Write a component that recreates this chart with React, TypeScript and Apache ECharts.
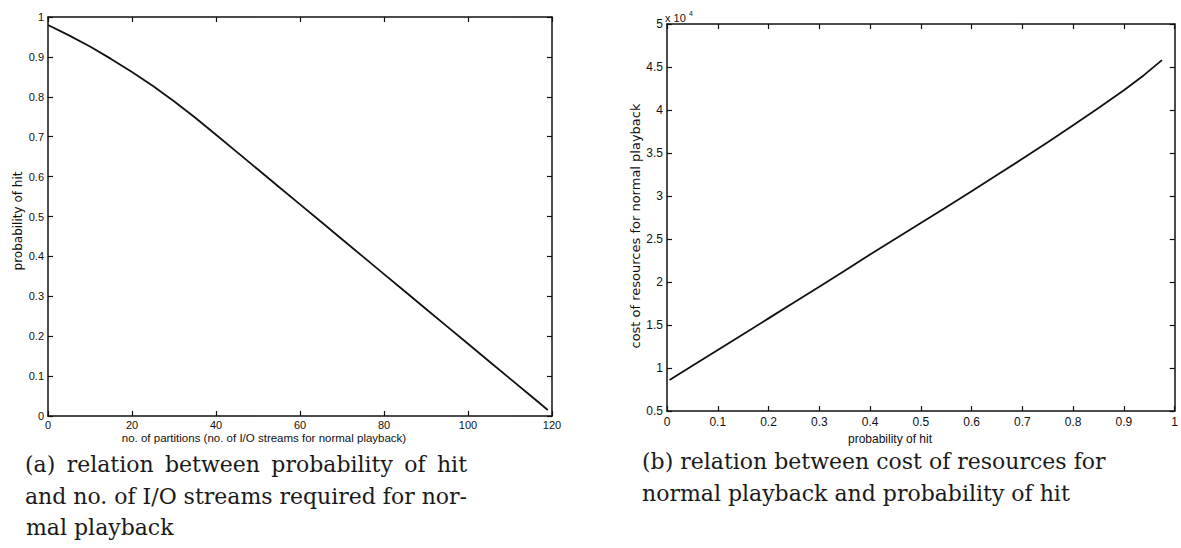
import React, { useEffect, useRef } from "react";
import * as echarts from "echarts";

// (a) probability of hit vs. number of partitions
const partitions = [0, 5, 10, 15, 20, 25, 30, 35, 40, 45, 50, 55, 60, 65, 70, 75, 80, 85, 90, 95, 100, 105, 110, 115, 119];
const hitProbability = [
  0.98, 0.954, 0.926, 0.895, 0.862, 0.827, 0.789, 0.748, 0.705, 0.6613, 0.6177, 0.574, 0.5303,
  0.4867, 0.443, 0.3993, 0.3557, 0.312, 0.2683, 0.2247, 0.181, 0.1373, 0.0937, 0.05, 0.015,
];

// (b) cost of resources for normal playback vs. probability of hit
const hitLevels = [0.005, 0.05, 0.1, 0.15, 0.2, 0.25, 0.3, 0.35, 0.4, 0.45, 0.5, 0.55, 0.6, 0.65, 0.7, 0.75, 0.8, 0.85, 0.9, 0.94, 0.975];
const resourceCost = [
  8600, 10260, 12100, 13930, 15770, 17610, 19460, 21320, 23200, 25020, 26850, 28690, 30550,
  32430, 34330, 36260, 38230, 40240, 42300, 44080, 45800,
];

// axis ranges
const partitionTicks = { min: 0, max: 120, interval: 20 };
const probabilityTicks = { min: 0, max: 1, interval: 0.1 };
const costTicks = { min: 5000, max: 50000, interval: 5000 };

const captionA = [
  ["(a)", "relation", "between", "probability", "of", "hit"],
  ["and", "no.", "of", "I/O", "streams", "required", "for", "nor-"],
  ["mal playback"],
];
const captionB = ["(b) relation between cost of resources for", "normal playback and probability of hit"];

const INK = "#111";
const SANS = "Liberation Sans, Arial, sans-serif";
const WIDE_SANS = "DejaVu Sans, sans-serif";
const SERIF = "DejaVu Serif, Liberation Serif, serif";
const CAPTION_FONT = `22px ${SERIF}`;

const fmt1 = (v: number) => String(+v.toFixed(1));

function axisPair(kind: "x" | "y", grid: number, range: any, fontSize: number, margin: number, formatter: (v: number) => string) {
  const common = {
    type: "value",
    gridIndex: grid,
    min: range.min,
    max: range.max,
    interval: range.interval,
    splitLine: { show: false },
    axisLine: { show: true, onZero: false, lineStyle: { color: INK, width: 1.5 } },
    axisTick: { show: true, inside: true, length: 5, lineStyle: { color: INK, width: 1.2 } },
  };
  const main = {
    ...common,
    position: kind === "x" ? "bottom" : "left",
    axisLabel: { show: true, color: INK, fontFamily: SANS, fontSize, margin, formatter },
  };
  const mirror = {
    ...common,
    position: kind === "x" ? "top" : "right",
    axisLabel: { show: false },
  };
  return [main, mirror];
}

// lay out words so that a line fills [left, right] (justified)
function justify(words: string[], left: number, right: number, measure: (s: string) => number) {
  const widths = words.map(measure);
  const total = widths.reduce((a, b) => a + b, 0);
  const gap = words.length > 1 ? (right - left - total) / (words.length - 1) : 0;
  const xs: number[] = [];
  let x = left;
  widths.forEach((w) => {
    xs.push(x);
    x += w + gap;
  });
  return xs;
}

export default function App() {
  const ref = useRef<HTMLDivElement>(null);

  useEffect(() => {
    if (!ref.current) return;
    const chart = echarts.init(ref.current, null, { renderer: "svg" });

    const ctx = document.createElement("canvas").getContext("2d")!;
    ctx.font = CAPTION_FONT;
    const measure = (s: string) => ctx.measureText(s).width;

    const lineY = [475, 507, 538];
    const captionTexts: any[] = [];
    captionA.forEach((words, li) => {
      const xs = li < 2 ? justify(words, 25, 467, measure) : [26];
      words.forEach((w, wi) =>
        captionTexts.push({
          type: "text",
          x: xs[wi],
          y: lineY[li],
          style: { text: w, fill: "#1a1a1a", font: CAPTION_FONT, textVerticalAlign: "bottom" },
        })
      );
    });
    captionB.forEach((line, li) =>
      captionTexts.push({
        type: "text",
        x: 642,
        y: [472, 504][li],
        style: { text: line, fill: "#1a1a1a", font: CAPTION_FONT, textVerticalAlign: "bottom" },
      })
    );

    const [xa, xaTop] = axisPair("x", 0, partitionTicks, 11, 3, (v) => String(v));
    const [ya, yaRight] = axisPair("y", 0, probabilityTicks, 11, 4, fmt1);
    const [xb, xbTop] = axisPair("x", 1, probabilityTicks, 12, 5, fmt1);
    const [yb, ybRight] = axisPair("y", 1, costTicks, 12, 4, (v) => fmt1(v / 10000));

    chart.setOption({
      animation: false,
      backgroundColor: "#fff",
      grid: [
        { left: 48, top: 17, width: 504, height: 399 },
        { left: 667, top: 24, width: 511, height: 387 },
      ],
      xAxis: [xa, xaTop, xb, xbTop],
      yAxis: [ya, yaRight, yb, ybRight],
      series: [
        {
          type: "line",
          xAxisIndex: 0,
          yAxisIndex: 0,
          data: partitions.map((p, i) => [p, hitProbability[i]]),
          showSymbol: false,
          lineStyle: { color: INK, width: 1.8, join: "round" },
        },
        {
          type: "line",
          xAxisIndex: 2,
          yAxisIndex: 2,
          data: hitLevels.map((p, i) => [p, resourceCost[i]]),
          showSymbol: false,
          lineStyle: { color: INK, width: 1.8, join: "round" },
        },
      ],
      graphic: [
        {
          type: "text",
          x: 264,
          y: 438,
          style: {
            text: "no. of partitions (no. of I/O streams for normal playback)",
            fill: INK,
            font: `11.5px ${SANS}`,
            textAlign: "center",
            textVerticalAlign: "middle",
          },
        },
        {
          type: "text",
          x: 18,
          y: 221,
          rotation: Math.PI / 2,
          style: {
            text: "probability of hit",
            fill: INK,
            font: `12px ${WIDE_SANS}`,
            textAlign: "center",
            textVerticalAlign: "middle",
          },
        },
        {
          type: "text",
          x: 890,
          y: 439,
          style: {
            text: "probability of hit",
            fill: INK,
            font: `12px ${SANS}`,
            textAlign: "center",
            textVerticalAlign: "middle",
          },
        },
        {
          type: "text",
          x: 635,
          y: 226,
          rotation: Math.PI / 2,
          style: {
            text: "cost of resources for normal playback",
            fill: INK,
            font: `13px ${WIDE_SANS}`,
            textAlign: "center",
            textVerticalAlign: "middle",
          },
        },
        {
          type: "text",
          x: 665,
          y: 18,
          style: { text: "x 10", fill: INK, font: `11px ${SANS}`, textVerticalAlign: "middle" },
        },
        {
          type: "text",
          x: 689,
          y: 13,
          style: { text: "4", fill: INK, font: `7px ${SANS}`, textVerticalAlign: "middle" },
        },
        ...captionTexts,
      ],
    });

    return () => chart.dispose();
  }, []);

  return (
    <div
      ref={ref}
      style={{ position: "fixed", left: 0, top: 0, width: 1181, height: 548, background: "#fff" }}
    />
  );
}
